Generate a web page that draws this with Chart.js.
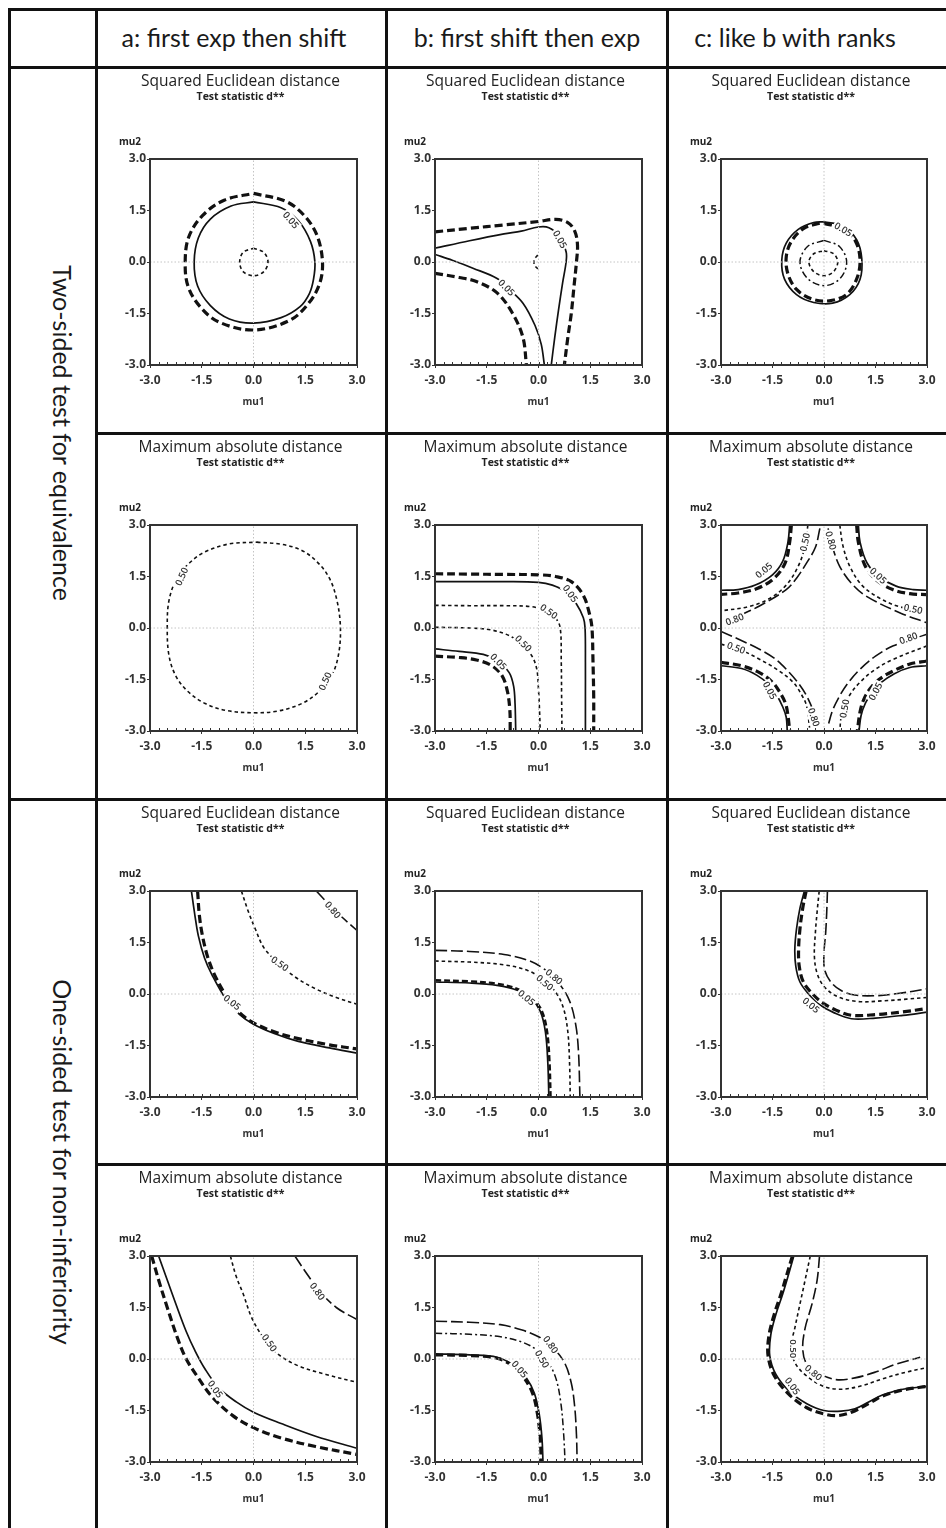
<!DOCTYPE html>
<html><head><meta charset="utf-8">
<script src="https://cdn.jsdelivr.net/npm/chart.js@4.4.1/dist/chart.umd.min.js"></script>
<style>
html,body{margin:0;padding:0;background:#fff;}
body{width:946px;height:1528px;position:relative;overflow:hidden;}
.line{position:absolute;background:#111;z-index:5;}
.hdr{position:absolute;font-family:Lato,"Open Sans",sans-serif;font-size:25px;color:#1a1a1a;white-space:nowrap;line-height:1;transform:translate(-50%,-50%);}
.side{position:absolute;font-family:Lato,"Open Sans",sans-serif;font-size:25px;color:#1a1a1a;white-space:nowrap;line-height:1;transform:translate(-50%,-50%) rotate(90deg);}
canvas{position:absolute;}
</style></head><body>
<script>
// ---------- texts ----------
const COLUMN_HEADERS = ['a: first exp then shift','b: first shift then exp','c: like b with ranks'];
const ROW_GROUPS = ['Two-sided test for equivalence','One-sided test for non-inferiority'];
const PANEL_TITLES = ['Squared Euclidean distance','Maximum absolute distance'];
const PANEL_SUBTITLE = 'Test statistic d**';
const X_LABEL = 'mu1', Y_LABEL = 'mu2';
const TICK_VALUES = [-3,-1.5,0,1.5,3];
const TICK_LABELS = ['-3.0','-1.5','0.0','1.5','3.0'];

// ---------- reference lines ----------
const ZERO_V = [[0,-3],[0,3]];
const ZERO_H = [[-3,0],[3,0]];

// ---------- row 1, col a ----------
const A1_THICK = [[0,2.0],[0.95,1.76],[1.5,1.32],[1.85,0.75],[2.0,0],[1.92,-0.62],[1.6,-1.2],[1.05,-1.7],[0,-1.98],[-1.0,-1.75],[-1.55,-1.3],[-1.9,-0.7],[-1.98,0],[-1.88,0.72],[-1.48,1.35],[-0.85,1.8],[0,2.0]];
const A1_SOLID = [[0,1.75],[0.8,1.58],[1.3,1.2],[1.65,0.6],[1.78,0],[1.74,-0.5],[1.62,-0.92],[1.35,-1.3],[0.8,-1.62],[0,-1.78],[-0.7,-1.66],[-1.25,-1.27],[-1.62,-0.7],[-1.72,0],[-1.6,0.7],[-1.25,1.25],[-0.65,1.63],[0,1.75]];
const A1_SHORT = [[0,0.4],[0.3,0.28],[0.42,0],[0.3,-0.28],[0,-0.4],[-0.3,-0.28],[-0.4,0],[-0.3,0.28],[0,0.4]];
const A1_LABELS = [[1.08,1.22,50,'0.05']];
// ---------- row 1, col b ----------
const B1_THICK_UP = [[-3,0.88],[-2,0.98],[-1,1.08],[0,1.18],[0.5,1.24],[0.85,1.15],[1.05,0.9],[1.13,0.5],[1.1,0],[1.03,-0.7],[0.95,-1.5],[0.85,-2.2],[0.75,-3.0]];
const B1_THICK_LO = [[-3,-0.33],[-2.3,-0.45],[-1.8,-0.57],[-1.2,-0.9],[-0.75,-1.5],[-0.45,-2.2],[-0.35,-3.0]];
const B1_SOLID_UP = [[-3,0.4],[-2,0.62],[-1,0.82],[-0.5,0.9],[0,1.02],[0.3,1.0],[0.6,0.75],[0.8,0.3],[0.8,0],[0.7,-0.6],[0.58,-1.4],[0.47,-2.2],[0.37,-3.0]];
const B1_SOLID_LO = [[-3,0.22],[-2.5,0.05],[-1.9,-0.18],[-1.2,-0.48],[-0.9,-0.75],[-0.45,-1.2],[-0.1,-1.85],[0.08,-2.4],[0.17,-3.0]];
const B1_SHORT = [[-0.02,0.2],[-0.12,0.08],[-0.12,-0.08],[-0.02,-0.2]];
const B1_LABELS = [[0.62,0.66,60,'0.05'],[-0.93,-0.75,45,'0.05']];
// ---------- row 1, col c ----------
const C1_SOLID = [[0,1.17],[0.55,1.05],[0.95,0.65],[1.1,0.1],[1.05,-0.5],[0.75,-0.95],[0.25,-1.2],[-0.3,-1.18],[-0.8,-0.95],[-1.15,-0.5],[-1.23,0.05],[-1.1,0.55],[-0.75,0.95],[-0.3,1.15],[0,1.17]];
const C1_THICK = [[0,1.12],[0.55,0.98],[0.92,0.6],[1.05,0.05],[0.95,-0.5],[0.65,-0.95],[0.15,-1.13],[-0.35,-1.08],[-0.8,-0.8],[-1.05,-0.35],[-1.1,0.15],[-0.95,0.6],[-0.6,0.97],[-0.15,1.12],[0,1.12]];
const C1_DASHDOT = [[0,0.63],[0.45,0.45],[0.66,0],[0.47,-0.48],[0,-0.69],[-0.48,-0.48],[-0.7,0],[-0.48,0.45],[0,0.63]];
const C1_SHORT = [[0,0.33],[0.28,0.24],[0.4,0],[0.28,-0.28],[0,-0.4],[-0.3,-0.28],[-0.44,0],[-0.3,0.24],[0,0.33]];
const C1_LABELS = [[0.56,0.95,30,'0.05']];
// ---------- row 2, col a ----------
const A2_SHORT = [[0.1,2.5],[0.8,2.44],[1.4,2.26],[1.85,1.92],[2.2,1.45],[2.42,0.8],[2.52,0],[2.46,-0.8],[2.26,-1.4],[1.9,-1.85],[1.4,-2.2],[0.7,-2.42],[0,-2.47],[-0.8,-2.4],[-1.4,-2.2],[-1.9,-1.85],[-2.25,-1.4],[-2.45,-0.8],[-2.5,0],[-2.45,0.8],[-2.22,1.45],[-1.85,1.9],[-1.4,2.22],[-0.7,2.45],[0.1,2.5]];
const A2_LABELS = [[-2.08,1.5,-65,'0.50'],[2.08,-1.55,-65,'0.50']];
// ---------- row 2, col b ----------
const B2_THICK_OUT = [[-3,1.58],[-2,1.57],[-1,1.56],[0,1.55],[0.5,1.5],[0.95,1.35],[1.3,0.95],[1.48,0.4],[1.55,0],[1.58,-1],[1.6,-2],[1.6,-3]];
const B2_SOLID_OUT = [[-3,1.35],[-2,1.35],[-1,1.35],[0,1.33],[0.4,1.25],[0.8,1.05],[1.1,0.7],[1.3,0.3],[1.35,0],[1.36,-1],[1.36,-2],[1.36,-3]];
const B2_SHORT_OUT = [[-3,0.66],[-2,0.65],[-1,0.65],[-0.2,0.62],[0.2,0.5],[0.5,0.28],[0.63,0],[0.66,-1],[0.67,-2],[0.68,-3]];
const B2_SHORT_IN = [[-3,0.02],[-2,0.0],[-1.4,-0.05],[-0.9,-0.2],[-0.5,-0.45],[-0.2,-0.8],[-0.05,-1.2],[0.0,-1.8],[0.03,-2.4],[0.05,-3]];
const B2_SOLID_IN = [[-3,-0.61],[-2.3,-0.68],[-1.6,-0.77],[-1.2,-0.95],[-0.85,-1.3],[-0.72,-1.7],[-0.68,-2.2],[-0.66,-3]];
const B2_THICK_IN = [[-3,-0.82],[-2.3,-0.86],[-1.8,-0.93],[-1.35,-1.1],[-1.05,-1.4],[-0.9,-1.85],[-0.83,-2.4],[-0.82,-3]];
const B2_LABELS = [[0.92,1.0,55,'0.05'],[0.3,0.48,35,'0.50'],[-0.44,-0.45,45,'0.50'],[-1.16,-0.98,45,'0.05']];
// ---------- row 2, col c ----------
const C2_SOLID_UL = [[-1.0,3],[-1.05,2.5],[-1.2,1.95],[-1.5,1.55],[-2.0,1.25],[-2.5,1.12],[-3,1.1]];
const C2_THICK_UL = [[-0.95,3],[-1.0,2.5],[-1.13,1.9],[-1.45,1.45],[-1.95,1.15],[-2.5,1.02],[-3,0.98]];
const C2_SHORT_UL = [[-0.47,3],[-0.55,2.4],[-0.75,1.8],[-1.1,1.25],[-1.6,0.85],[-2.2,0.62],[-3,0.5]];
const C2_LONG_UL = [[-0.12,2.9],[-0.25,2.35],[-0.51,1.89],[-0.8,1.45],[-1.1,1.12],[-1.88,0.64],[-2.5,0.35],[-3,0.15]];
const C2_SOLID_UR = [[1.0,3],[1.05,2.5],[1.25,1.9],[1.6,1.5],[2.1,1.22],[2.6,1.12],[3,1.1]];
const C2_THICK_UR = [[0.95,3],[1.0,2.5],[1.18,1.85],[1.5,1.42],[2.0,1.12],[2.5,1.0],[3,0.97]];
const C2_SHORT_UR = [[0.46,3],[0.55,2.4],[0.75,1.8],[1.1,1.25],[1.6,0.88],[2.2,0.62],[3,0.5]];
const C2_LONG_UR = [[0.12,2.9],[0.25,2.35],[0.46,1.79],[0.8,1.3],[1.24,0.92],[2.22,0.44],[3,0.15]];
const C2_LONG_LR = [[3,-0.18],[2.02,-0.52],[1.5,-0.82],[1.05,-1.2],[0.7,-1.6],[0.46,-1.97],[0.25,-2.4],[0.12,-2.84]];
const C2_SHORT_LR = [[3,-0.52],[2.02,-0.91],[1.5,-1.2],[1.05,-1.58],[0.75,-1.95],[0.61,-2.26],[0.5,-2.6],[0.46,-3]];
const C2_THICK_LR = [[3,-0.96],[2.5,-1.05],[2.02,-1.25],[1.6,-1.5],[1.34,-1.77],[1.15,-2.1],[1.05,-2.44],[0.97,-3]];
const C2_SOLID_LR = [[3,-1.1],[2.5,-1.15],[2.05,-1.33],[1.65,-1.6],[1.4,-1.9],[1.2,-2.2],[1.08,-2.55],[1.02,-3]];
const C2_LONG_LL = [[-3,-0.1],[-2.5,-0.32],[-1.88,-0.62],[-1.45,-0.88],[-1.1,-1.2],[-0.75,-1.6],[-0.51,-1.97],[-0.3,-2.45],[-0.2,-2.85]];
const C2_SHORT_LL = [[-3,-0.47],[-2.4,-0.65],[-1.88,-0.91],[-1.35,-1.22],[-0.9,-1.58],[-0.65,-1.95],[-0.51,-2.26],[-0.42,-2.9]];
const C2_THICK_LL = [[-3,-1.0],[-2.4,-1.1],[-1.88,-1.3],[-1.5,-1.58],[-1.29,-1.87],[-1.12,-2.2],[-1.05,-2.55],[-1.0,-3]];
const C2_SOLID_LL = [[-3,-1.1],[-2.4,-1.18],[-1.95,-1.38],[-1.6,-1.65],[-1.38,-1.95],[-1.2,-2.3],[-1.1,-2.6],[-1.07,-3]];
const C2_LABELS = [[-1.75,1.68,-40,'0.05'],[-0.55,2.5,-78,'0.50'],[-2.6,0.25,-20,'0.80'],
  [1.58,1.52,42,'0.05'],[2.6,0.55,12,'0.50'],[0.2,2.55,75,'0.80'],
  [2.46,-0.3,-20,'0.80'],[0.6,-2.35,-80,'0.50'],[1.5,-1.85,-62,'0.05'],
  [-2.56,-0.58,20,'0.50'],[-1.58,-1.82,62,'0.05'],[-0.3,-2.6,72,'0.80']];
// ---------- row 3, col a ----------
const A3_SOLID = [[-1.8,3],[-1.7,2.3],[-1.6,1.7],[-1.42,1.05],[-1.2,0.55],[-0.8,-0.15],[-0.4,-0.6],[0,-0.88],[0.6,-1.15],[1.3,-1.38],[2.2,-1.57],[3,-1.72]];
const A3_THICK = [[-1.62,3],[-1.57,2.3],[-1.48,1.7],[-1.32,1.05],[-1.1,0.5],[-0.75,-0.12],[-0.4,-0.55],[0,-0.84],[0.6,-1.1],[1.3,-1.3],[2.2,-1.48],[3,-1.6]];
const A3_SHORT = [[-0.35,3],[-0.15,2.4],[0.05,1.9],[0.3,1.35],[0.7,0.92],[1.2,0.5],[1.8,0.15],[2.4,-0.1],[3,-0.3]];
const A3_LONG = [[1.82,3],[2.1,2.7],[2.5,2.3],[3,1.85]];
const A3_LABELS = [[-0.62,-0.25,38,'0.05'],[0.76,0.88,35,'0.50'],[2.3,2.45,50,'0.80']];
// ---------- row 3, col b ----------
const B3_LONG = [[-3,1.27],[-2,1.24],[-1,1.15],[-0.3,0.98],[0.2,0.7],[0.6,0.3],[0.9,-0.2],[1.08,-0.9],[1.16,-1.7],[1.2,-3]];
const B3_SHORT = [[-3,0.96],[-2,0.93],[-1,0.85],[-0.3,0.68],[0.15,0.4],[0.5,0.05],[0.72,-0.4],[0.85,-1.1],[0.9,-2],[0.92,-3]];
const B3_SOLID = [[-3,0.35],[-2,0.32],[-1.2,0.25],[-0.6,0.1],[-0.2,-0.15],[0.05,-0.5],[0.2,-1.1],[0.27,-2],[0.3,-3]];
const B3_THICK = [[-3,0.4],[-2,0.37],[-1.2,0.3],[-0.6,0.14],[-0.15,-0.15],[0.1,-0.5],[0.25,-1.1],[0.32,-2],[0.35,-3]];
const B3_LABELS = [[0.45,0.5,40,'0.80'],[0.18,0.33,40,'0.50'],[-0.35,-0.11,40,'0.05']];
// ---------- row 3, col c ----------
const C3_SOLID = [[-0.57,3],[-0.7,2.5],[-0.8,1.9],[-0.85,1.3],[-0.82,0.8],[-0.7,0.35],[-0.45,0.0],[-0.15,-0.3],[0.3,-0.55],[0.8,-0.72],[1.5,-0.7],[2.3,-0.62],[3,-0.53]];
const C3_THICK = [[-0.52,3],[-0.62,2.5],[-0.7,1.9],[-0.74,1.3],[-0.72,0.8],[-0.6,0.35],[-0.35,0.02],[-0.05,-0.25],[0.35,-0.47],[0.8,-0.62],[1.5,-0.6],[2.3,-0.52],[3,-0.42]];
const C3_SHORT = [[-0.14,3],[-0.2,2.4],[-0.25,1.8],[-0.28,1.1],[-0.2,0.6],[0,0.22],[0.4,-0.08],[1.0,-0.22],[1.7,-0.2],[2.4,-0.15],[3,-0.1]];
const C3_LONG = [[0.1,3],[0.08,2.4],[0.05,1.8],[0.0,1.2],[0.02,0.7],[0.2,0.35],[0.5,0.1],[0.9,-0.03],[1.5,-0.05],[2.2,0.02],[3,0.15]];
const C3_LABELS = [[-0.38,-0.33,40,'0.05']];
// ---------- row 4, col a ----------
const A4_THICK = [[-2.95,3],[-2.75,2.3],[-2.5,1.5],[-2.2,0.6],[-1.95,0],[-1.6,-0.55],[-1.2,-1.1],[-0.6,-1.65],[0,-2.0],[0.8,-2.3],[1.8,-2.55],[3,-2.78]];
const A4_SOLID = [[-2.75,3],[-2.5,2.3],[-2.25,1.6],[-1.95,0.8],[-1.7,0.25],[-1.4,-0.3],[-1.0,-0.85],[-0.5,-1.25],[0,-1.55],[0.8,-1.88],[1.8,-2.25],[3,-2.6]];
const A4_SHORT = [[-0.67,3],[-0.5,2.4],[-0.3,1.9],[-0.05,1.2],[0.3,0.6],[0.7,0.15],[1.3,-0.2],[2.1,-0.45],[3,-0.68]];
const A4_LONG = [[1.2,3],[1.5,2.55],[1.9,2.0],[2.4,1.5],[3,1.15]];
const A4_LABELS = [[-1.11,-0.88,55,'0.05'],[0.46,0.47,55,'0.50'],[1.85,1.97,55,'0.80']];
// ---------- row 4, col b ----------
const B4_LONG = [[-3,1.1],[-2,1.07],[-1.1,1.0],[-0.5,0.85],[0,0.65],[0.4,0.35],[0.75,-0.1],[0.95,-0.7],[1.05,-1.4],[1.1,-2.2],[1.12,-3]];
const B4_DASHDOT = [[-3,0.75],[-2,0.72],[-1.1,0.65],[-0.5,0.5],[-0.1,0.3],[0.25,-0.05],[0.5,-0.55],[0.65,-1.3],[0.73,-2.2],[0.77,-3]];
const B4_SOLID = [[-3,0.15],[-2,0.12],[-1.2,0.05],[-0.7,-0.2],[-0.35,-0.55],[-0.12,-1.0],[0.02,-1.6],[0.1,-2.3],[0.13,-3]];
const B4_THICK = [[-3,0.12],[-2,0.1],[-1.2,0.02],[-0.72,-0.22],[-0.4,-0.58],[-0.17,-1.0],[-0.03,-1.6],[0.05,-2.3],[0.08,-3]];
const B4_LABELS = [[0.35,0.42,55,'0.80'],[0.1,0.0,60,'0.50'],[-0.55,-0.3,50,'0.05']];
// ---------- row 4, col c ----------
const C4_SOLID = [[-0.88,3],[-1.05,2.4],[-1.2,1.9],[-1.4,1.3],[-1.55,0.7],[-1.58,0.1],[-1.4,-0.45],[-1.0,-0.95],[-0.5,-1.3],[0,-1.5],[0.5,-1.52],[0.9,-1.45],[1.3,-1.25],[1.7,-1.05],[2.3,-0.88],[3,-0.8]];
const C4_THICK = [[-0.92,3],[-1.1,2.4],[-1.25,1.9],[-1.45,1.3],[-1.6,0.7],[-1.63,0.1],[-1.45,-0.48],[-1.05,-1.0],[-0.5,-1.42],[0,-1.6],[0.4,-1.65],[0.8,-1.55],[1.3,-1.3],[1.7,-1.08],[2.3,-0.9],[3,-0.8]];
const C4_SHORT = [[-0.4,3],[-0.55,2.3],[-0.7,1.6],[-0.85,0.9],[-0.95,0.4],[-0.85,-0.1],[-0.5,-0.5],[0,-0.8],[0.5,-0.88],[1.1,-0.78],[1.7,-0.58],[2.4,-0.38],[3,-0.25]];
const C4_LONG = [[-0.13,3],[-0.2,2.3],[-0.35,1.6],[-0.55,0.9],[-0.62,0.3],[-0.5,-0.15],[-0.15,-0.42],[0.35,-0.6],[0.9,-0.55],[1.5,-0.38],[2.1,-0.15],[2.8,0.05]];
const C4_LABELS = [[-0.92,-0.79,55,'0.05'],[-0.9,0.3,90,'0.50'],[-0.31,-0.4,40,'0.80']];

// ---------- panel composition ----------
const PANELS = [
  {col:0,row:0,title:0,curves:[[A1_THICK,'thick'],[A1_SOLID,'solid'],[A1_SHORT,'short']],labels:A1_LABELS},
  {col:1,row:0,title:0,curves:[[B1_THICK_UP,'thick'],[B1_THICK_LO,'thick'],[B1_SOLID_UP,'solid'],[B1_SOLID_LO,'solid'],[B1_SHORT,'short']],labels:B1_LABELS},
  {col:2,row:0,title:0,curves:[[C1_SOLID,'solid'],[C1_THICK,'thick'],[C1_DASHDOT,'dashdot'],[C1_SHORT,'short']],labels:C1_LABELS},
  {col:0,row:1,title:1,curves:[[A2_SHORT,'short']],labels:A2_LABELS},
  {col:1,row:1,title:1,curves:[[B2_THICK_OUT,'thick'],[B2_SOLID_OUT,'solid'],[B2_SHORT_OUT,'short'],[B2_SHORT_IN,'short'],[B2_SOLID_IN,'solid'],[B2_THICK_IN,'thick']],labels:B2_LABELS},
  {col:2,row:1,title:1,curves:[[C2_SOLID_UL,'solid'],[C2_THICK_UL,'thick'],[C2_SHORT_UL,'short'],[C2_LONG_UL,'long'],
    [C2_SOLID_UR,'solid'],[C2_THICK_UR,'thick'],[C2_SHORT_UR,'short'],[C2_LONG_UR,'long'],
    [C2_SOLID_LR,'solid'],[C2_THICK_LR,'thick'],[C2_SHORT_LR,'short'],[C2_LONG_LR,'long'],
    [C2_SOLID_LL,'solid'],[C2_THICK_LL,'thick'],[C2_SHORT_LL,'short'],[C2_LONG_LL,'long']],labels:C2_LABELS},
  {col:0,row:2,title:0,curves:[[A3_SOLID,'solid'],[A3_THICK,'thick'],[A3_SHORT,'short'],[A3_LONG,'long']],labels:A3_LABELS},
  {col:1,row:2,title:0,curves:[[B3_LONG,'long'],[B3_SHORT,'short'],[B3_SOLID,'solid'],[B3_THICK,'thickthin']],labels:B3_LABELS},
  {col:2,row:2,title:0,curves:[[C3_SOLID,'solid'],[C3_THICK,'thick'],[C3_SHORT,'short'],[C3_LONG,'long']],labels:C3_LABELS},
  {col:0,row:3,title:1,curves:[[A4_THICK,'thick'],[A4_SOLID,'solid'],[A4_SHORT,'short'],[A4_LONG,'long']],labels:A4_LABELS},
  {col:1,row:3,title:1,curves:[[B4_LONG,'long'],[B4_DASHDOT,'dashdot'],[B4_SOLID,'solid'],[B4_THICK,'thick']],labels:B4_LABELS},
  {col:2,row:3,title:1,curves:[[C4_SOLID,'solid'],[C4_THICK,'thick'],[C4_SHORT,'short'],[C4_LONG,'long']],labels:C4_LABELS}
];

// ---------- styles / layout ----------
const STYLES = {
  thick:{borderWidth:3.2,borderDash:[8,4]},
  thickthin:{borderWidth:2.4,borderDash:[6,3]},
  solid:{borderWidth:1.7,borderDash:[]},
  short:{borderWidth:1.6,borderDash:[3.5,3]},
  long:{borderWidth:1.6,borderDash:[12,4]},
  dashdot:{borderWidth:1.5,borderDash:[7,3,2,3]}
};
const COLS = [{left:97,w:288,pl:53,pw:207,hx:234},{left:387,w:279,pl:48,pw:207,hx:527},{left:668,w:278,pl:53,pw:206,hx:795}];
const ROWS = [67,433,799,1164];
const CELL_H = 365, PLOT_TOP = 92, PLOT_H = 206;
const FONT = '"Open Sans", "DejaVu Sans", sans-serif';

function addLine(x,y,w,h){const d=document.createElement('div');d.className='line';Object.assign(d.style,{left:x+'px',top:y+'px',width:w+'px',height:h+'px'});document.body.appendChild(d);}
function addText(cls,txt,x,y){const d=document.createElement('div');d.className=cls;d.textContent=txt;d.style.left=x+'px';d.style.top=y+'px';document.body.appendChild(d);}

const toXY = arr => arr.map(p=>({x:p[0],y:p[1]}));

function makePanel(p){
  const col = COLS[p.col], top = ROWS[p.row];
  const cv = document.createElement('canvas');
  cv.width = col.w; cv.height = CELL_H;
  Object.assign(cv.style,{left:col.left+'px',top:top+'px',width:col.w+'px',height:CELL_H+'px'});
  document.body.appendChild(cv);
  const datasets = [];
  [ZERO_V,ZERO_H].forEach(z=>datasets.push({data:toXY(z),showLine:true,pointRadius:0,borderColor:'#c4c4c4',borderWidth:1,borderDash:[1.5,2],tension:0}));
  p.curves.forEach(([arr,st])=>datasets.push(Object.assign({data:toXY(arr),showLine:true,pointRadius:0,borderColor:'#111',tension:0.35,fill:false,borderCapStyle:'butt'},STYLES[st])));
  const padRight = col.w - col.pl - col.pw;
  const panelPlugin = {
    id:'panelDeco',
    afterDatasetsDraw(chart){
      const {ctx, chartArea:a, scales:{x,y}} = chart;
      ctx.save();
      // contour labels
      ctx.font = '600 9.5px '+FONT; ctx.textAlign='center'; ctx.textBaseline='middle';
      p.labels.forEach(([vx,vy,ang,txt])=>{
        const px=x.getPixelForValue(vx), py=y.getPixelForValue(vy);
        ctx.save(); ctx.translate(px,py); ctx.rotate(ang*Math.PI/180);
        const w = ctx.measureText(txt).width+3;
        ctx.fillStyle='#fff'; ctx.fillRect(-w/2,-5.5,w,11);
        ctx.fillStyle='#333'; ctx.fillText(txt,0,0.5);
        ctx.restore();
      });
      // frame
      ctx.strokeStyle='#333'; ctx.lineWidth=2;
      ctx.strokeRect(a.left,a.top,a.right-a.left,a.bottom-a.top);
      // minor ticks on bottom edge
      ctx.lineWidth=1;
      for(let v=-3; v<=3.001; v+=0.25){
        const px=Math.round(x.getPixelForValue(v))+0.5;
        ctx.beginPath(); ctx.moveTo(px,a.bottom); ctx.lineTo(px,a.bottom-3); ctx.stroke();
      }
      ctx.restore();
    },
    afterDraw(chart){
      const {ctx, chartArea:a} = chart;
      const cx = (a.left+a.right)/2 - 13;
      ctx.save(); ctx.fillStyle='#222'; ctx.textAlign='center'; ctx.textBaseline='middle';
      ctx.font = '500 15.5px '+FONT; ctx.fillText(PANEL_TITLES[p.title], cx, 15);
      ctx.font = 'bold 10.5px '+FONT; ctx.fillText(PANEL_SUBTITLE, cx, 30.5);
      ctx.font = 'bold 10px '+FONT; ctx.fillText(Y_LABEL, a.left-20, 75);
      ctx.restore();
    }
  };
  const tickFont = {family:FONT,size:12,weight:'bold'};
  const axFont = {family:FONT,size:10,weight:'bold'};
  new Chart(cv,{
    type:'scatter',
    data:{datasets},
    plugins:[panelPlugin],
    options:{
      responsive:false, animation:false, events:[],
      layout:{padding:{top:PLOT_TOP,left:0,right:padRight,bottom:0}},
      plugins:{legend:{display:false},tooltip:{enabled:false},title:{display:false}},
      scales:{
        x:{type:'linear',min:-3,max:3,
          afterBuildTicks:s=>{s.ticks=TICK_VALUES.map(v=>({value:v}));},
          ticks:{callback:(v,i)=>TICK_LABELS[i],font:tickFont,color:'#333',padding:5,maxRotation:0,autoSkip:false},
          grid:{drawOnChartArea:false,drawTicks:true,tickLength:3,tickColor:'#333',color:'#333'},
          border:{display:false},
          title:{display:true,text:X_LABEL,font:axFont,color:'#333',padding:{top:0,bottom:24}},
          afterFit:s=>{s.height=CELL_H-PLOT_TOP-PLOT_H;}
        },
        y:{type:'linear',min:-3,max:3,
          afterBuildTicks:s=>{s.ticks=TICK_VALUES.map(v=>({value:v}));},
          ticks:{callback:(v,i)=>TICK_LABELS[i],font:tickFont,color:'#333',padding:1,autoSkip:false},
          grid:{drawOnChartArea:false,drawTicks:true,tickLength:3,tickColor:'#333',color:'#333'},
          border:{display:false},
          afterFit:s=>{s.width=col.pl;}
        }
      }
    }
  });
}

PANELS.forEach(makePanel);

// ---------- table lines and headers ----------
const T = 2.5;
addLine(8,8,946,T);            // top
addLine(8,66,946,T);           // header bottom
addLine(95,432,860,T);         // row 1/2
addLine(8,798,946,T);          // group divider
addLine(95,1163,860,T);        // row 3/4
addLine(8,8,T,1530);           // left
addLine(95,8,T,1530);          // after side column
addLine(385,8,T,1530);         // a|b
addLine(666,8,T,1530);         // b|c
COLUMN_HEADERS.forEach((h,i)=>addText('hdr',h,COLS[i].hx,37));
addText('side',ROW_GROUPS[0],62,433);
addText('side',ROW_GROUPS[1],62,1162);
</script>
</body></html>
